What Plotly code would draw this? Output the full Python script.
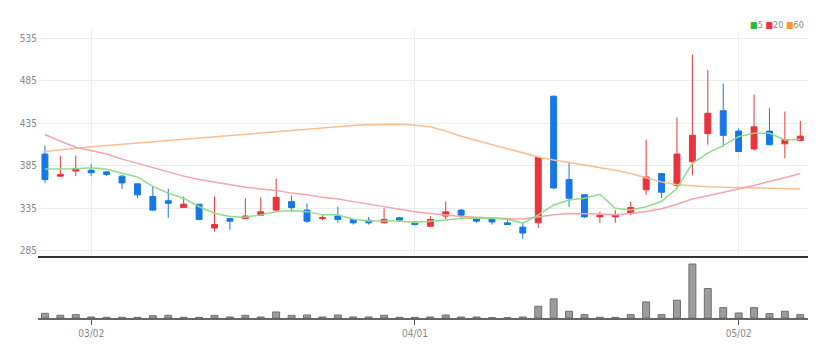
import plotly.graph_objects as go
from plotly.subplots import make_subplots

dates = ["2022-02-24", "2022-02-25", "2022-02-28", "2022-03-02", "2022-03-03", "2022-03-04",
         "2022-03-07", "2022-03-08", "2022-03-10", "2022-03-11", "2022-03-14", "2022-03-15",
         "2022-03-16", "2022-03-17", "2022-03-18", "2022-03-21", "2022-03-22", "2022-03-23",
         "2022-03-24", "2022-03-25", "2022-03-28", "2022-03-29", "2022-03-30", "2022-03-31",
         "2022-04-01", "2022-04-04", "2022-04-05", "2022-04-06", "2022-04-07", "2022-04-08",
         "2022-04-11", "2022-04-12", "2022-04-13", "2022-04-14", "2022-04-15", "2022-04-18",
         "2022-04-19", "2022-04-20", "2022-04-21", "2022-04-22", "2022-04-25", "2022-04-26",
         "2022-04-27", "2022-04-28", "2022-04-29", "2022-05-02", "2022-05-03", "2022-05-04",
         "2022-05-06", "2022-05-09"]

opens = [399, 373, 379, 380, 378, 373, 364, 349, 344, 336, 340, 312, 323, 323, 327, 333, 343, 333,
         323, 326, 322, 321, 318, 324, 319, 314, 326, 333, 324, 323, 318, 313, 318, 467, 369, 351,
         325, 325, 329, 357, 376, 362, 390, 423, 450, 426, 405, 426, 411, 415]
highs = [409, 397, 397, 387, 379, 374, 364, 361, 358, 349, 340, 349, 323, 347, 348, 370, 350, 341,
         327, 337, 323, 325, 335, 325, 319, 326, 343, 334, 325, 324, 322, 318, 395, 468, 390, 351,
         331, 333, 343, 416, 376, 442, 516, 498, 482, 429, 469, 453, 449, 438]
lows = [365, 372, 373, 373, 373, 358, 347, 332, 324, 336, 321, 308, 310, 323, 327, 332, 331, 318,
        321, 318, 316, 316, 318, 319, 315, 313, 322, 322, 318, 316, 316, 299, 312, 358, 337, 324,
        318, 318, 327, 351, 347, 359, 374, 410, 408, 401, 403, 409, 394, 414]
closes = [369, 375, 382, 377, 375, 365, 351, 333, 341, 340, 322, 316, 320, 326, 331, 348, 336, 320,
          324, 322, 318, 318, 322, 321, 316, 322, 331, 327, 320, 319, 316, 306, 395, 359, 347, 325,
          327, 327, 336, 372, 354, 399, 421, 447, 421, 402, 431, 410, 416, 420]

ma5 = [381.5, 381.5, 381.7, 383, 381, 376.4, 372, 361, 353, 347, 337, 329.4, 325.4, 324.6, 327.4,
       331.2, 332.4, 331.2, 327.4, 327.4, 322.3, 320.3, 320.3, 320.3, 318.3, 319.5, 321.5, 323.5,
       323.5, 323.5, 322.3, 317.6, 327.4, 339, 345, 347, 351.7, 335.2, 333.2, 337, 343.4, 358.8,
       388, 400, 409, 419.5, 423.5, 423.5, 415.6, 416.4]
ma20 = [422, 414, 407, 403, 399, 393, 388, 383, 378, 373, 369, 366, 363, 360, 358, 356, 353, 351,
        348, 346, 343, 340, 337, 334, 331, 329, 327, 325.5, 324.5, 323.5, 323, 322.5, 325, 327.5,
        329, 329, 328.5, 327.5, 329, 331.5, 334.5, 340, 346, 350, 354, 358, 362, 367, 371, 376]
ma60 = [402, 404, 406, 407.5, 409, 410.5, 412, 413.5, 415, 416.5, 418, 419.5, 421, 422.5, 424,
        425.5, 427, 428.5, 430, 431.5, 432.5, 433.5, 434, 434, 433, 431, 426, 420, 415, 410, 405,
        400, 395.5, 392, 389, 386, 383, 380, 376, 371, 366, 363, 361.5, 360.5, 360, 359.5, 359,
        358.5, 358, 358]

volumes = [14, 8, 10, 3, 2, 2, 2, 7, 8, 2, 2, 8, 3, 8, 3, 18, 8, 9, 3, 9, 3, 3, 8, 2, 2, 3, 9, 3,
           3, 1, 1, 3, 35, 57, 20, 10, 2, 2, 10, 48, 10, 53, 161, 88, 31, 15, 31, 13, 20, 10]
volumes = [v * 10000 for v in volumes]

tick_dates = ["2022-03-02", "2022-04-01", "2022-05-02"]
tick_labels = ["03/02", "04/01", "05/02"]
y_ticks = [285, 335, 385, 435, 485, 535]

RED = "#e8343c"
BLUE = "#1877e6"
FONT = "Liberation Sans Narrow, DejaVu Sans Condensed, Roboto, sans-serif"

fig = make_subplots(rows=2, cols=1, shared_xaxes=True)

fig.add_trace(go.Scatter(x=dates, y=ma60, mode="lines", line=dict(color="#f8bf90", width=1.5),
                         hoverinfo="skip", showlegend=False), row=1, col=1)
fig.add_trace(go.Scatter(x=dates, y=ma20, mode="lines", line=dict(color="#f5a3ad", width=1.5),
                         hoverinfo="skip", showlegend=False), row=1, col=1)
fig.add_trace(go.Scatter(x=dates, y=ma5, mode="lines", line=dict(color="#8fdc8a", width=1.5),
                         hoverinfo="skip", showlegend=False), row=1, col=1)

fig.add_trace(go.Candlestick(
    x=dates, open=opens, high=highs, low=lows, close=closes,
    increasing=dict(line=dict(color=RED, width=1), fillcolor=RED),
    decreasing=dict(line=dict(color=BLUE, width=1), fillcolor=BLUE),
    whiskerwidth=0, showlegend=False), row=1, col=1)

fig.add_trace(go.Bar(x=dates, y=volumes, marker=dict(color="#9c9c9c", line=dict(color="#707070", width=1)),
                     width=0.45, showlegend=False), row=2, col=1)

fig.update_layout(
    width=824, height=357,
    margin=dict(l=23, r=24, t=22, b=47),
    paper_bgcolor="white", plot_bgcolor="white",
    font=dict(family=FONT, size=10, color="#888"),
    boxgap=0.45,
    xaxis=dict(type="category", domain=[0, 1], range=[-0.45, 49.5],
               rangeslider=dict(visible=False),
               tickvals=tick_dates, ticktext=tick_labels, showticklabels=False,
               showgrid=True, gridcolor="#ececec", gridwidth=1,
               showline=True, linecolor="#333", linewidth=2, zeroline=False),
    yaxis=dict(domain=[0.2153, 1], range=[279, 545], tickvals=y_ticks,
               showgrid=True, gridcolor="#ececec", gridwidth=1, zeroline=False,
               showline=False, ticks="", tickfont=dict(size=10, color="#888")),
    xaxis2=dict(type="category", range=[-0.45, 49.5], matches="x",
                tickvals=tick_dates, ticktext=tick_labels,
                showgrid=False, showline=True, linecolor="#666", linewidth=1.5,
                ticks="outside", ticklen=5, tickcolor="#555",
                tickfont=dict(size=10, color="#888"), zeroline=False),
    yaxis2=dict(domain=[0, 0.2014], range=[0, 1730000], showticklabels=False,
                showgrid=False, zeroline=False, showline=False),
)

fig.add_annotation(
    xref="paper", yref="paper", x=0.997, y=1.017, xanchor="right", yanchor="middle",
    showarrow=False, font=dict(size=9, color="#888", family=FONT),
    text=("<span style='color:#2fb53a'>■</span>5 "
          "<span style='color:#e8343c'>■</span>20 "
          "<span style='color:#f09a3a'>■</span>60"),
)

fig.write_html("out.html")
